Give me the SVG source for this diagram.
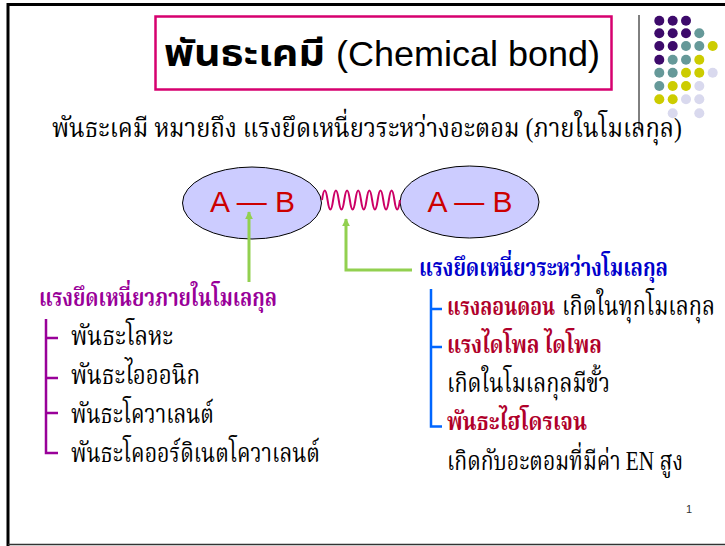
<svg xmlns="http://www.w3.org/2000/svg" width="725" height="546" viewBox="0 0 725 546">
<style>
.th{font-family:"Liberation Serif","Noto Serif Thai","Noto Sans Thai",serif;}
.ts{font-family:"Liberation Sans","Noto Sans Thai",sans-serif;}
.b{font-weight:bold;font-size:20.5px;}
.r{font-size:22px;fill:#000;}
.ab{font-family:"Liberation Sans",Arial,sans-serif;font-size:30px;fill:#cc0000;}
.el{fill:#ccccff;stroke:#000;stroke-width:1;}
.grn{fill:none;stroke:#92d050;stroke-width:3;}
.red{fill:#b0002a;}
.dp{fill:#3d0a6b}.dt{fill:#669999}.dy{fill:#cccc00}.dl{fill:#d9d9ee}
</style>
<defs>
<marker id="ah" viewBox="0 0 10 10" refX="9" refY="5" markerWidth="2.6" markerHeight="2.6" orient="auto" markerUnits="strokeWidth">
<path d="M0,0 L10,5 L0,10 z" fill="#92d050"/>
</marker>
</defs>
<rect width="725" height="546" fill="#fff"/>
<g id="frame">
<path d="M8,546 V4.5 H725" fill="none" stroke="#000" stroke-width="3"/>
<line x1="8" y1="544.5" x2="725" y2="544.5" stroke="#333" stroke-width="1.5"/>
<line x1="639" y1="15" x2="639" y2="130" stroke="#000" stroke-width="1"/>
</g>
<g id="dots">
<circle class="dp" cx="659.3" cy="20.7" r="5"/><circle class="dp" cx="672.7" cy="20.7" r="5"/><circle class="dp" cx="686" cy="20.7" r="5"/>
<circle class="dp" cx="659.3" cy="33.3" r="5"/><circle class="dp" cx="672.7" cy="33.3" r="5"/><circle class="dp" cx="686" cy="33.3" r="5"/><circle class="dt" cx="699.3" cy="33.3" r="5"/>
<circle class="dp" cx="659.3" cy="46" r="5"/><circle class="dp" cx="672.7" cy="46" r="5"/><circle class="dt" cx="686" cy="46" r="5"/><circle class="dt" cx="699.3" cy="46" r="5"/><circle class="dy" cx="712.7" cy="46" r="5"/>
<circle class="dp" cx="659.3" cy="59.7" r="5"/><circle class="dt" cx="672.7" cy="59.7" r="5"/><circle class="dt" cx="686" cy="59.7" r="5"/><circle class="dy" cx="699.3" cy="59.7" r="5"/>
<circle class="dt" cx="659.3" cy="72.7" r="5"/><circle class="dt" cx="672.7" cy="72.7" r="5"/><circle class="dy" cx="686" cy="72.7" r="5"/><circle class="dy" cx="699.3" cy="72.7" r="5"/><circle class="dl" cx="712.7" cy="72.7" r="5"/>
<circle class="dt" cx="659.3" cy="86" r="5"/><circle class="dy" cx="672.7" cy="86" r="5"/><circle class="dy" cx="686" cy="86" r="5"/><circle class="dl" cx="699.3" cy="86" r="5"/>
<circle class="dy" cx="659.3" cy="99.3" r="5"/><circle class="dy" cx="672.7" cy="99.3" r="5"/><circle class="dl" cx="686" cy="99.3" r="5"/><circle class="dl" cx="699.3" cy="99.3" r="5"/>
<circle class="dl" cx="672.7" cy="113.3" r="5"/><circle class="dl" cx="699.3" cy="113.3" r="5"/>
</g>
<g id="title">
<rect x="155.5" y="16.5" width="456" height="73" fill="#fff" stroke="#d6006f" stroke-width="2.5"/>
<text class="ts" x="164" y="66" font-size="37" font-weight="bold" textLength="161" lengthAdjust="spacingAndGlyphs">พันธะเคมี</text>
<text class="ts" x="336" y="66" font-size="35" textLength="264" lengthAdjust="spacingAndGlyphs">(Chemical bond)</text>
</g>
<g id="definition">
<text class="th" transform="translate(52,137) scale(1,1.12)" font-size="24" textLength="630" lengthAdjust="spacingAndGlyphs">พันธะเคมี หมายถึง แรงยึดเหนี่ยวระหว่างอะตอม (ภายในโมเลกุล)</text>
</g>
<g id="molecule-left">
<ellipse class="el" cx="252" cy="203" rx="69.5" ry="36"/>
<text class="ab" x="252.5" y="212" text-anchor="middle">A — B</text>
</g>
<g id="molecule-right">
<ellipse class="el" cx="469.5" cy="202" rx="69.5" ry="36"/>
<text class="ab" x="470" y="212" text-anchor="middle">A — B</text>
</g>
<g id="connectors">
<path d="M322,200 q2.79,-19 5.57,0 t5.57,0 t5.57,0 t5.57,0 t5.57,0 t5.57,0 t5.57,0 t5.57,0 t5.57,0 t5.57,0 t5.57,0 t5.57,0 t5.57,0 t5.57,0" fill="none" stroke="#cc0066" stroke-width="2"/>
<path class="grn" d="M249,282 V212" marker-end="url(#ah)"/>
<path class="grn" d="M412,270 H346 V219" marker-end="url(#ah)"/>
<path d="M46,319 V453 H58 M46,338 H58 M46,378 H58 M46,413 H58" fill="none" stroke="#990099" stroke-width="2.5"/>
<path d="M431,289 V426.5 H442 M431,309 H442 M431,347 H442" fill="none" stroke="#0066ff" stroke-width="2.5"/>
</g>
<g id="intra">
<text class="th b" transform="translate(39,306) scale(1,1.2)" fill="#990099" textLength="238" lengthAdjust="spacingAndGlyphs">แรงยึดเหนี่ยวภายในโมเลกุล</text>
<text class="th r" transform="translate(71,345) scale(1,1.2)" textLength="102" lengthAdjust="spacingAndGlyphs">พันธะโลหะ</text>
<text class="th r" transform="translate(71,384) scale(1,1.2)" textLength="129" lengthAdjust="spacingAndGlyphs">พันธะไอออนิก</text>
<text class="th r" transform="translate(71,423) scale(1,1.2)" textLength="143" lengthAdjust="spacingAndGlyphs">พันธะโควาเลนต์</text>
<text class="th r" transform="translate(71,462) scale(1,1.2)" textLength="249" lengthAdjust="spacingAndGlyphs">พันธะโคออร์ดิเนตโควาเลนต์</text>
</g>
<g id="inter">
<text class="th b" transform="translate(419,276) scale(1,1.2)" fill="#0000cc" textLength="249" lengthAdjust="spacingAndGlyphs">แรงยึดเหนี่ยวระหว่างโมเลกุล</text>
<text class="th b red" transform="translate(447,315) scale(1,1.2)" textLength="108" lengthAdjust="spacingAndGlyphs">แรงลอนดอน</text>
<text class="th r" transform="translate(562,315) scale(1,1.2)" textLength="153" lengthAdjust="spacingAndGlyphs">เกิดในทุกโมเลกุล</text>
<text class="th b red" transform="translate(447,353) scale(1,1.2)" textLength="155" lengthAdjust="spacingAndGlyphs">แรงไดโพล ไดโพล</text>
<text class="th r" transform="translate(447,392) scale(1,1.2)" textLength="163" lengthAdjust="spacingAndGlyphs">เกิดในโมเลกุลมีขั้ว</text>
<text class="th b red" transform="translate(447,430) scale(1,1.2)" textLength="140" lengthAdjust="spacingAndGlyphs">พันธะไฮโดรเจน</text>
<text class="th r" transform="translate(447,470) scale(1,1.2)" textLength="236" lengthAdjust="spacingAndGlyphs">เกิดกับอะตอมที่มีค่า EN สูง</text>
</g>
<text x="686" y="513" font-family="Liberation Sans,Arial,sans-serif" font-size="11" fill="#333">1</text>
</svg>
